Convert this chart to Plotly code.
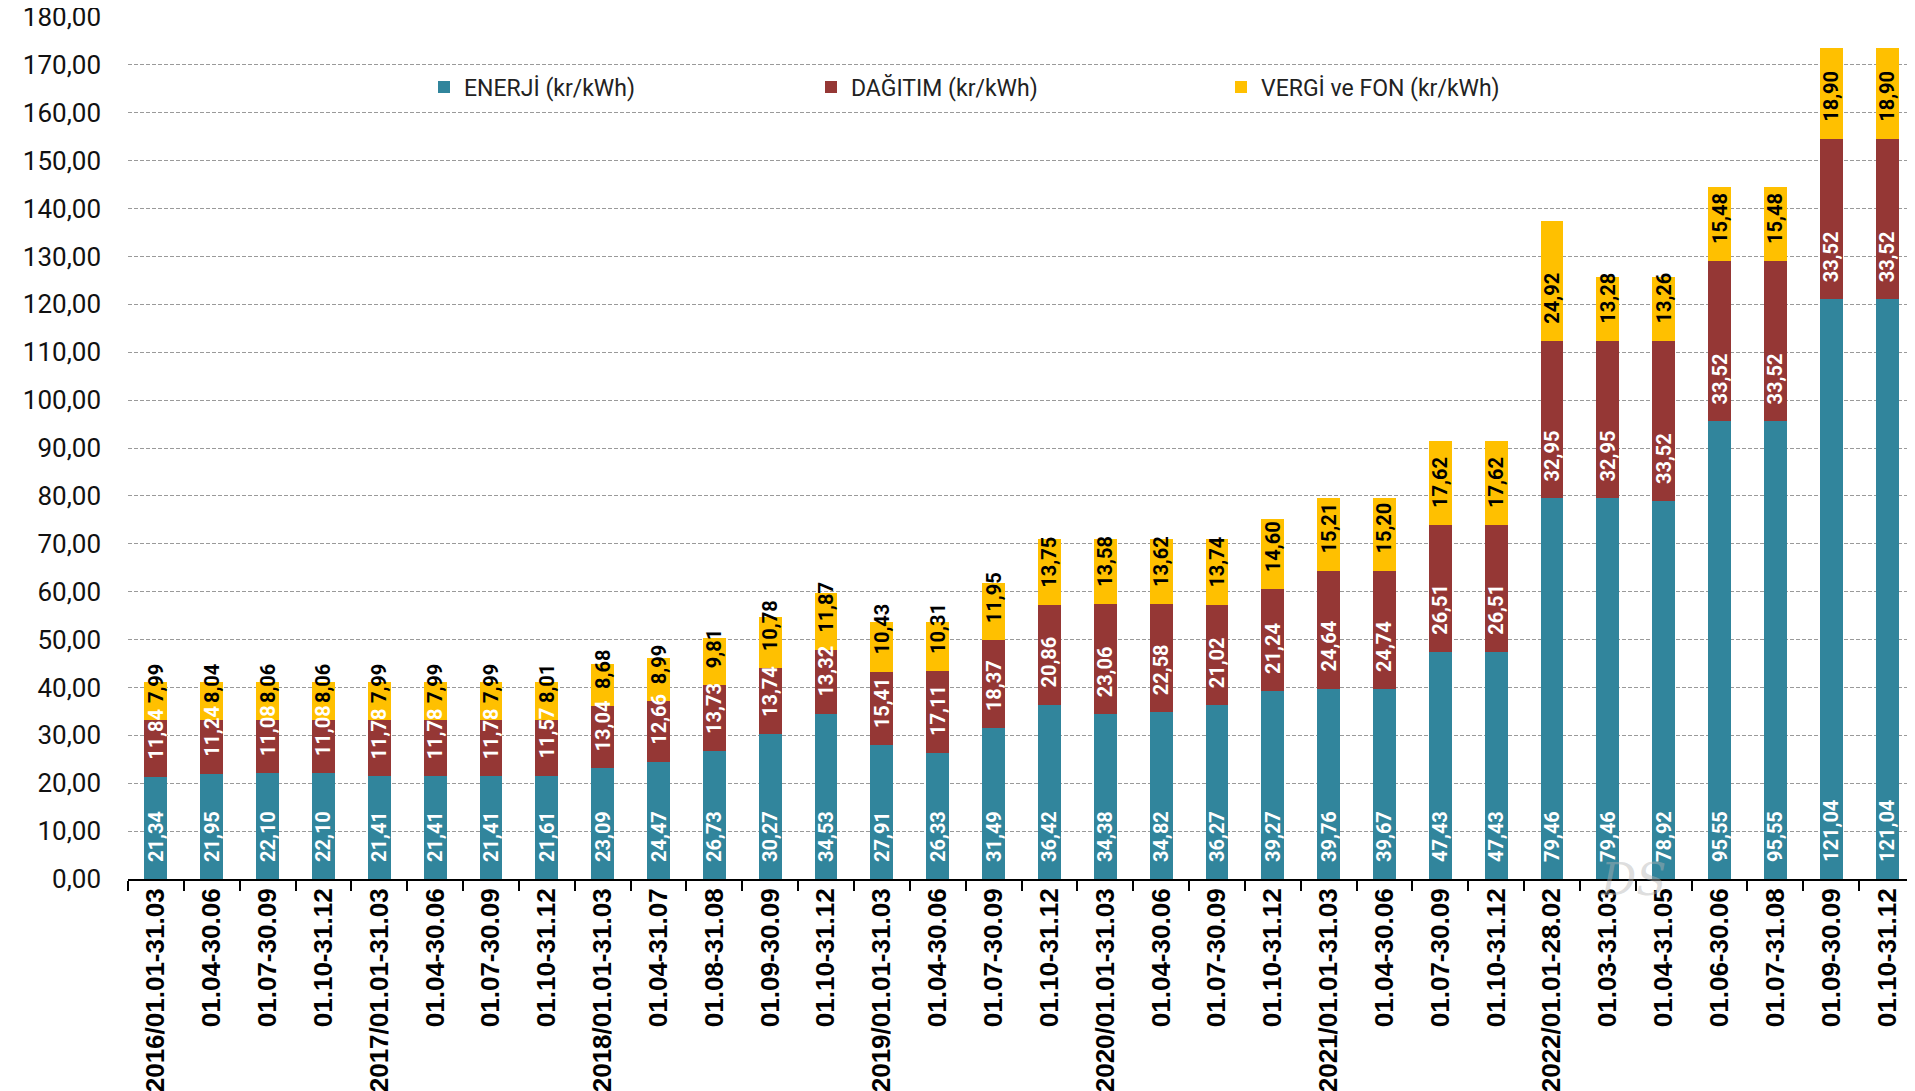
import plotly.graph_objects as go

# Period labels (x axis)
periods = [
    '2016/01.01-31.03', '01.04-30.06', '01.07-30.09', '01.10-31.12',
    '2017/01.01-31.03', '01.04-30.06', '01.07-30.09', '01.10-31.12',
    '2018/01.01-31.03', '01.04-31.07', '01.08-31.08', '01.09-30.09', '01.10-31.12',
    '2019/01.01-31.03', '01.04-30.06', '01.07-30.09', '01.10-31.12',
    '2020/01.01-31.03', '01.04-30.06', '01.07-30.09', '01.10-31.12',
    '2021/01.01-31.03', '01.04-30.06', '01.07-30.09', '01.10-31.12',
    '2022/01.01-28.02', '01.03-31.03', '01.04-31.05', '01.06-30.06',
    '01.07-31.08', '01.09-30.09', '01.10-31.12',
]

# kr/kWh components
enerji = [21.34, 21.95, 22.10, 22.10, 21.41, 21.41, 21.41, 21.61,
          23.09, 24.47, 26.73, 30.27, 34.53,
          27.91, 26.33, 31.49, 36.42,
          34.38, 34.82, 36.27, 39.27,
          39.76, 39.67, 47.43, 47.43,
          79.46, 79.46, 78.92, 95.55, 95.55, 121.04, 121.04]
dagitim = [11.84, 11.24, 11.08, 11.08, 11.78, 11.78, 11.78, 11.57,
           13.04, 12.66, 13.73, 13.74, 13.32,
           15.41, 17.11, 18.37, 20.86,
           23.06, 22.58, 21.02, 21.24,
           24.64, 24.74, 26.51, 26.51,
           32.95, 32.95, 33.52, 33.52, 33.52, 33.52, 33.52]
vergi = [7.99, 8.04, 8.06, 8.06, 7.99, 7.99, 7.99, 8.01,
         8.68, 8.99, 9.81, 10.78, 11.87,
         10.43, 10.31, 11.95, 13.75,
         13.58, 13.62, 13.74, 14.60,
         15.21, 15.20, 17.62, 17.62,
         24.92, 13.28, 13.26, 15.48, 15.48, 18.90, 18.90]

series = [
    ('ENERJİ (kr/kWh)', enerji, '#31859C', 'white', 'legend'),
    ('DAĞITIM (kr/kWh)', dagitim, '#953735', 'white', 'legend2'),
    ('VERGİ ve FON (kr/kWh)', vergi, '#FFC000', 'black', 'legend3'),
]

# leading blank keeps the labels a bit above the segment base, like Excel does
PAD = '\u00a0\u00a0\u2009'
xpos = list(range(len(periods)))

fig = go.Figure()
# coloured stack
for name, vals, color, tcolor, leg in series:
    fig.add_trace(go.Bar(
        x=xpos, y=vals, name=name,
        marker=dict(color=color, line=dict(width=0)),
        legend=leg, showlegend=True,
    ))

# same stack again on an overlaid x axis, transparent, only for the labels
# so that labels spilling out of a short segment stay visible on top
for name, vals, color, tcolor, leg in series:
    fig.add_trace(go.Bar(
        x=xpos, y=vals, name=name, xaxis='x2',
        marker=dict(color='rgba(0,0,0,0)', line=dict(width=0)),
        texttemplate=PAD + '%{y:.2f}',
        textposition='inside',
        insidetextanchor='start',
        textangle=-90,
        constraintext='none',
        textfont=dict(family='Roboto', size=20, weight='bold', color=tcolor),
        showlegend=False, hoverinfo='skip',
    ))

fig.add_annotation(
    x=26.45, y=0, xref='x', yref='y', text='<i>DS</i>', showarrow=False,
    font=dict(family='DejaVu Serif', size=44, color='rgba(180,180,180,0.45)'),
)


# fraction of the plot area for a page x position (plot area 128..1915 px)
def px_x(p):
    return (p - 128) / (1915 - 128)


legend_common = dict(
    orientation='h', xref='paper', yref='paper',
    yanchor='middle', xanchor='left', y=(879 - 87) / (879 - 17),
    bgcolor='rgba(0,0,0,0)',
    font=dict(family='Roboto', size=23, color='#222222'),
)

fig.update_layout(
    width=1915, height=1091,
    barmode='stack',
    bargap=0.59,
    separators=',.',
    showlegend=True,
    plot_bgcolor='white',
    paper_bgcolor='white',
    margin=dict(l=120, r=8, t=9, b=220, autoexpand=False),
    legend=dict(x=px_x(424), **legend_common),
    legend2=dict(x=px_x(811), **legend_common),
    legend3=dict(x=px_x(1221), **legend_common),
    xaxis=dict(
        range=[-0.5, len(periods) - 0.5],
        tickmode='array', tickvals=xpos, ticktext=periods,
        tickangle=-90,
        tickfont=dict(family='Liberation Sans', size=26, weight='bold', color='black'),
        ticks='', ticklabelstandoff=-3,
        minor=dict(tick0=0.5, dtick=1, ticks='outside', ticklen=10,
                   tickwidth=2, tickcolor='black', showgrid=False),
        showline=True, linecolor='black', linewidth=2,
        showgrid=False, zeroline=False, automargin=False,
    ),
    xaxis2=dict(
        overlaying='x', range=[-0.5, len(periods) - 0.5],
        visible=False, showgrid=False, zeroline=False,
    ),
    yaxis=dict(
        range=[0, 180], dtick=10, tickformat='.2f',
        tickfont=dict(family='Roboto', size=26, color='#111111'),
        ticklabelstandoff=26, ticklabeloverflow='allow',
        showgrid=True, gridcolor='#9a9a9a', gridwidth=1, griddash='4px,2px',
        zeroline=False, showline=False, automargin=False,
    ),
)

fig.write_html("out.html")
